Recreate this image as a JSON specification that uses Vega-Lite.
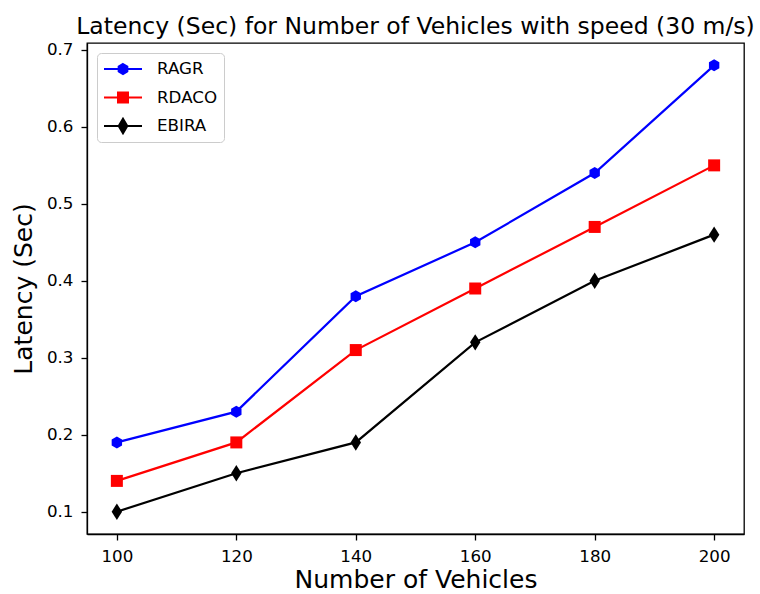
{
  "$schema": "https://vega.github.io/schema/vega-lite/v6.json",
  "width": 657,
  "height": 491,
  "autosize": {"type": "none"},
  "padding": {"left": 87, "top": 43, "right": 16, "bottom": 60},
  "background": "white",
  "title": {
    "text": "Latency (Sec) for Number of Vehicles with speed (30 m/s)",
    "font": "DejaVu Sans",
    "fontSize": 23.5,
    "fontWeight": "normal",
    "color": "#000000",
    "anchor": "middle",
    "baseline": "alphabetic",
    "offset": -16
  },
  "data": {
    "values": [
      {"vehicles": 100, "latency": 0.19, "method": "RAGR"},
      {"vehicles": 120, "latency": 0.23, "method": "RAGR"},
      {"vehicles": 140, "latency": 0.38, "method": "RAGR"},
      {"vehicles": 160, "latency": 0.45, "method": "RAGR"},
      {"vehicles": 180, "latency": 0.54, "method": "RAGR"},
      {"vehicles": 200, "latency": 0.68, "method": "RAGR"},
      {"vehicles": 100, "latency": 0.14, "method": "RDACO"},
      {"vehicles": 120, "latency": 0.19, "method": "RDACO"},
      {"vehicles": 140, "latency": 0.31, "method": "RDACO"},
      {"vehicles": 160, "latency": 0.39, "method": "RDACO"},
      {"vehicles": 180, "latency": 0.47, "method": "RDACO"},
      {"vehicles": 200, "latency": 0.55, "method": "RDACO"},
      {"vehicles": 100, "latency": 0.10, "method": "EBIRA"},
      {"vehicles": 120, "latency": 0.15, "method": "EBIRA"},
      {"vehicles": 140, "latency": 0.19, "method": "EBIRA"},
      {"vehicles": 160, "latency": 0.32, "method": "EBIRA"},
      {"vehicles": 180, "latency": 0.40, "method": "EBIRA"},
      {"vehicles": 200, "latency": 0.46, "method": "EBIRA"}
    ]
  },
  "encoding": {
    "x": {
      "field": "vehicles",
      "type": "quantitative",
      "scale": {"domain": [95, 205], "nice": false, "zero": false},
      "axis": {
        "title": "Number of Vehicles",
        "values": [100, 120, 140, 160, 180, 200],
        "format": "d",
        "labelPadding": 8,
        "titlePadding": 3
      }
    },
    "y": {
      "field": "latency",
      "type": "quantitative",
      "scale": {"domain": [0.071, 0.709], "nice": false, "zero": false},
      "axis": {
        "title": "Latency (Sec)",
        "values": [0.1, 0.2, 0.3, 0.4, 0.5, 0.6, 0.7],
        "format": ".1f",
        "labelPadding": 8,
        "titlePadding": 10
      }
    },
    "color": {
      "field": "method",
      "type": "nominal",
      "scale": {
        "domain": ["RAGR", "RDACO", "EBIRA"],
        "range": ["#0000ff", "#ff0000", "#000000"]
      },
      "legend": {
        "title": null,
        "orient": "top-left",
        "offset": 10,
        "padding": 6,
        "clipHeight": 20,
        "rowPadding": 8.5,
        "symbolSize": 1444,
        "symbolStrokeWidth": 2,
        "labelOffset": 14,
        "labelFont": "DejaVu Sans",
        "labelFontSize": 16.7,
        "labelColor": "#000000",
        "fillColor": "rgba(255,255,255,0.8)",
        "strokeColor": "#cccccc",
        "cornerRadius": 4,
        "encode": {
          "symbols": {
            "update": {
              "shape": {
                "signal": "datum.value === 'RAGR' ? 'M-1,0H1M0,-0.263L0.228,-0.132L0.228,0.132L0,0.263L-0.228,0.132L-0.228,-0.132Z' : datum.value === 'RDACO' ? 'M-1,0H1M-0.263,-0.263H0.263V0.263H-0.263Z' : 'M-1,0H1M0,-0.379L0.226,0L0,0.379L-0.226,0Z'"
              },
              "fill": {"signal": "datum.value === 'RAGR' ? '#0000ff' : datum.value === 'RDACO' ? '#ff0000' : '#000000'"},
              "stroke": {"signal": "datum.value === 'RAGR' ? '#0000ff' : datum.value === 'RDACO' ? '#ff0000' : '#000000'"},
              "strokeWidth": {"value": 2},
              "opacity": {"value": 1},
              "fillOpacity": {"value": 1}
            }
          }
        }
      }
    }
  },
  "layer": [
    {
      "mark": {"type": "line", "strokeWidth": 2.2},
      "encoding": {}
    },
    {
      "transform": [{"filter": "datum.method === 'RAGR'"}],
      "mark": {"type": "point", "filled": true, "size": 36, "opacity": 1, "shape": "M0,-2L1.732,-1L1.732,1L0,2L-1.732,1L-1.732,-1Z"},
      "encoding": {}
    },
    {
      "transform": [{"filter": "datum.method === 'RDACO'"}],
      "mark": {"type": "point", "filled": true, "size": 36, "opacity": 1, "shape": "M-2,-2H2V2H-2Z"},
      "encoding": {}
    },
    {
      "transform": [{"filter": "datum.method === 'EBIRA'"}],
      "mark": {"type": "point", "filled": true, "size": 36, "opacity": 1, "shape": "M0,-2.74L1.74,0L0,2.74L-1.74,0Z"},
      "encoding": {}
    }
  ],
  "config": {
    "font": "DejaVu Sans",
    "view": {"stroke": "#000000", "strokeWidth": 1.3},
    "axis": {
      "grid": false,
      "domainColor": "#000000",
      "domainWidth": 1.3,
      "tickColor": "#000000",
      "tickWidth": 1.3,
      "tickSize": 6,
      "labelFont": "DejaVu Sans",
      "labelFontSize": 16.7,
      "labelColor": "#000000",
      "titleFont": "DejaVu Sans",
      "titleFontSize": 25,
      "titleFontWeight": "normal",
      "titleColor": "#000000"
    }
  }
}
